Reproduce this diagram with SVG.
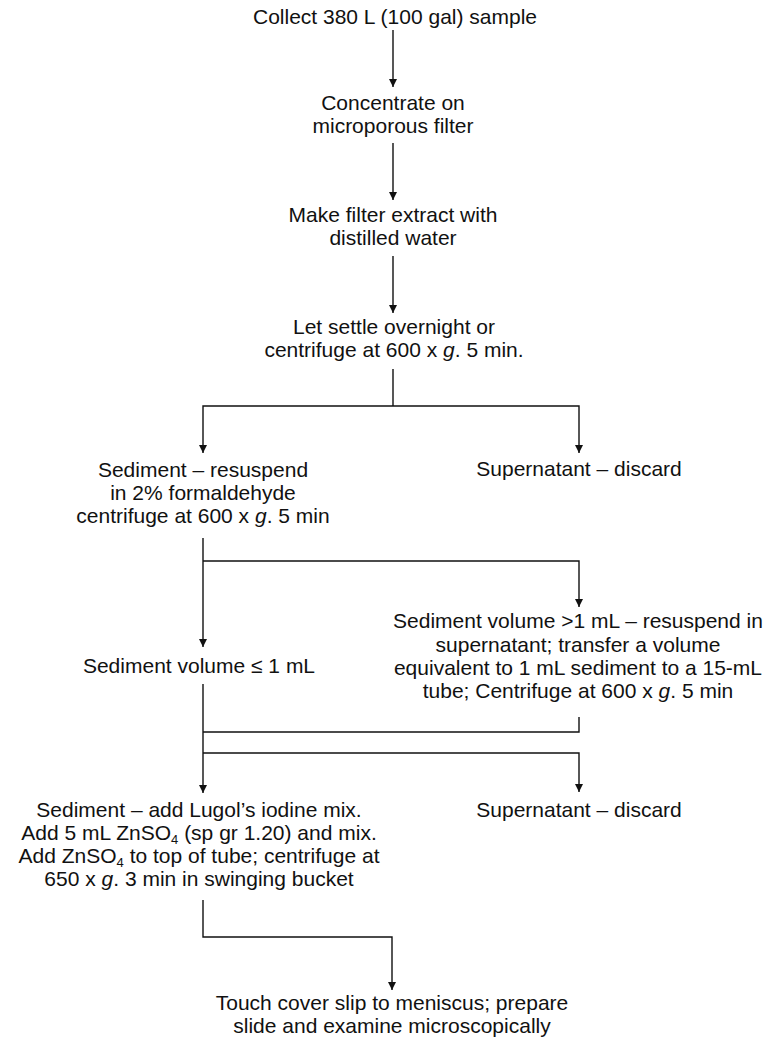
<svg xmlns="http://www.w3.org/2000/svg" width="768" height="1040" viewBox="0 0 768 1040">
  <style>
    text { font-family: "Liberation Sans", Arial, Helvetica, sans-serif; font-size: 21px; fill: #111; text-anchor: middle; }
    .it { font-style: italic; }
    .sub { font-size: 13px; }
    .wire { fill: none; stroke: #111; stroke-width: 1.4; }
  </style>
  <defs>
    <marker id="arrow" viewBox="0 0 10 10" refX="10" refY="5" markerUnits="userSpaceOnUse" markerWidth="10" markerHeight="8" orient="auto">
      <path d="M0,0 L10,5 L0,10 z" fill="#111"/>
    </marker>
  </defs>

  <rect width="768" height="1040" fill="#fff"/>

  <g id="connectors">
    <path class="wire" d="M393,30 V87" marker-end="url(#arrow)"/>
    <path class="wire" d="M393,143 V200" marker-end="url(#arrow)"/>
    <path class="wire" d="M393,256 V313" marker-end="url(#arrow)"/>
    <path class="wire" d="M393,369 V406"/>
    <path class="wire" d="M393,406 H203 V453" marker-end="url(#arrow)"/>
    <path class="wire" d="M393,406 H579 V453" marker-end="url(#arrow)"/>
    <path class="wire" d="M203,538 V647" marker-end="url(#arrow)"/>
    <path class="wire" d="M203,561 H579 V607" marker-end="url(#arrow)"/>
    <path class="wire" d="M203,684 V793" marker-end="url(#arrow)"/>
    <path class="wire" d="M579,717 V732 H203"/>
    <path class="wire" d="M203,753 H579 V792" marker-end="url(#arrow)"/>
    <path class="wire" d="M203,900 V937 H392 V990" marker-end="url(#arrow)"/>
  </g>

  <g id="collect">
    <text x="395" y="24">Collect 380 L (100 gal) sample</text>
  </g>
  <g id="concentrate">
    <text x="393" y="110">Concentrate on</text>
    <text x="393" y="133">microporous filter</text>
  </g>
  <g id="extract">
    <text x="393" y="222">Make filter extract with</text>
    <text x="393" y="245">distilled water</text>
  </g>
  <g id="settle">
    <text x="394" y="334">Let settle overnight or</text>
    <text x="394" y="357">centrifuge at 600 x <tspan class="it">g</tspan>. 5 min.</text>
  </g>
  <g id="sediment-resuspend">
    <text x="203" y="477">Sediment – resuspend</text>
    <text x="203" y="500">in 2% formaldehyde</text>
    <text x="203" y="523">centrifuge at 600 x <tspan class="it">g</tspan>. 5 min</text>
  </g>
  <g id="supernatant-1">
    <text x="579" y="476">Supernatant – discard</text>
  </g>
  <g id="sediment-small">
    <text x="199" y="673">Sediment volume ≤ 1 mL</text>
  </g>
  <g id="sediment-large">
    <text x="578" y="628">Sediment volume &gt;1 mL – resuspend in</text>
    <text x="578" y="652">supernatant; transfer a volume</text>
    <text x="578" y="675">equivalent to 1 mL sediment to a 15-mL</text>
    <text x="578" y="698">tube; Centrifuge at 600 x <tspan class="it">g</tspan>. 5 min</text>
  </g>
  <g id="supernatant-2">
    <text x="579" y="817">Supernatant – discard</text>
  </g>
  <g id="lugol">
    <text x="199" y="817">Sediment – add Lugol’s iodine mix.</text>
    <text x="199" y="840">Add 5 mL ZnSO<tspan class="sub" dy="4">4</tspan><tspan dy="-4"> (sp gr 1.20) and mix.</tspan></text>
    <text x="199" y="863">Add ZnSO<tspan class="sub" dy="4">4</tspan><tspan dy="-4"> to top of tube; centrifuge at</tspan></text>
    <text x="199" y="886">650 x <tspan class="it">g</tspan>. 3 min in swinging bucket</text>
  </g>
  <g id="examine">
    <text x="392" y="1010">Touch cover slip to meniscus; prepare</text>
    <text x="392" y="1033">slide and examine microscopically</text>
  </g>
</svg>
